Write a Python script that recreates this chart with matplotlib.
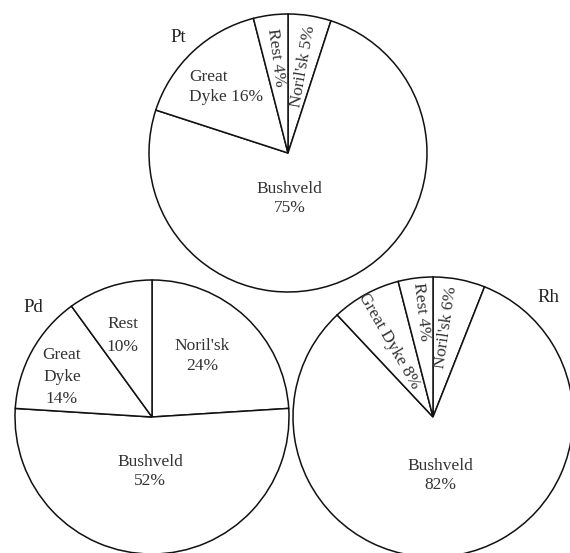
import matplotlib
matplotlib.use('Agg')
import matplotlib.pyplot as plt
import numpy as np

plt.rcParams['font.family'] = ['Liberation Serif', 'DejaVu Serif']

# Slice values, listed clockwise from 12 o'clock
metals = ['Pt', 'Pd', 'Rh']
producers = ["Noril'sk", 'Bushveld', 'Great Dyke', 'Rest']
pt_share = [5, 75, 16, 4]
pd_share = [24, 52, 14, 10]
rh_share = [6, 82, 8, 4]

# label text for each slice
pt_labels = ["Noril'sk 5%", 'Bushveld\n75%', 'Great\nDyke 16%', 'Rest 4%']
pd_labels = ["Noril'sk\n24%", 'Bushveld\n52%', 'Great\nDyke\n14%', 'Rest\n10%']
rh_labels = ["Noril'sk 6%", 'Bushveld\n82%', 'Great Dyke 8%', 'Rest 4%']

W, H = 570, 553

# layout (pixel canvas, y upward)
centers = [(288, 400), (152, 136), (433, 136)]
radii = [139, 137, 140]
# (angle deg, fraction of radius, rotated along radius?, linespacing, alignment)
label_layout = [
    [(80, 0.63, True, 1.2, 'center'), (-88, 0.33, False, 1.27, 'center'),
     (133, 0.65, False, 1.27, 'left'), (97.5, 0.69, True, 1.2, 'center')],
    [(50.6, 0.58, False, 1.33, 'center'), (-92, 0.40, False, 1.27, 'center'),
     (156, 0.72, False, 1.5, 'center'), (110, 0.63, False, 1.6, 'center')],
    [(81.7, 0.65, True, 1.2, 'center'), (-83, 0.42, False, 1.27, 'center'),
     (120, 0.63, True, 1.2, 'center'), (96.5, 0.76, True, 1.2, 'center')],
]
title_pos = [(178, 515), (33, 245), (548, 256)]

fig = plt.figure(figsize=(W / 100, H / 100), dpi=100)
ax = fig.add_axes([0, 0, 1, 1])

shares = [pt_share, pd_share, rh_share]
labels = [pt_labels, pd_labels, rh_labels]
txt_color = '#333333'

for i, metal in enumerate(metals):
    cx, cy = centers[i]
    r = radii[i]
    ax.pie(shares[i], center=(cx, cy), radius=r, startangle=90, counterclock=False,
           colors=['white'] * 4,
           wedgeprops=dict(edgecolor='#111111', linewidth=1.1), frame=True)
    for lab, (ang, frac, radial, ls, al) in zip(labels[i], label_layout[i]):
        a = np.deg2rad(ang)
        x = cx + frac * r * np.cos(a)
        y = cy + frac * r * np.sin(a)
        rot = 0
        if radial:
            rot = ang if ang < 90 else ang - 180
        ax.text(x, y, lab, ha='center', va='center', rotation=rot,
                rotation_mode='anchor', fontsize=12.5, color=txt_color,
                linespacing=ls, multialignment=al)
    tx, ty = title_pos[i]
    ax.text(tx, ty, metal, ha='center', va='center', fontsize=13.5, color='#222222')

ax.set_xlim(0, W)
ax.set_ylim(0, H)
ax.set_aspect('equal')
ax.axis('off')
fig.savefig('out.png', dpi=100, facecolor='white')
